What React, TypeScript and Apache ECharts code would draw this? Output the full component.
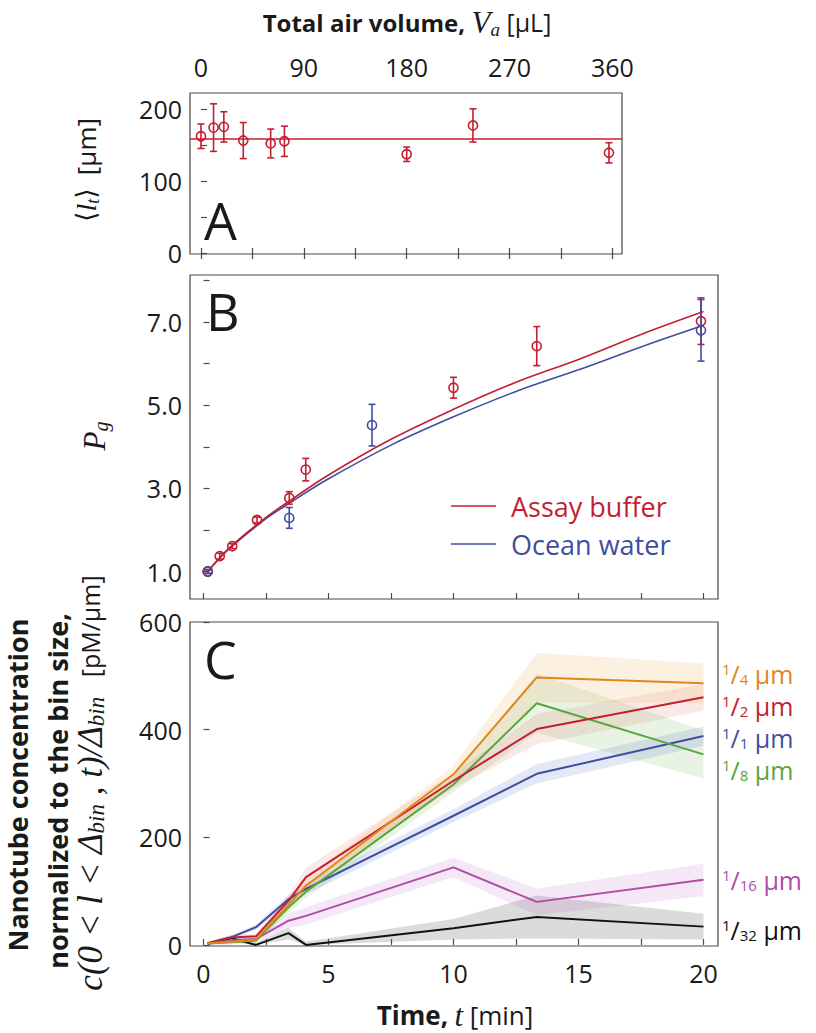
import React, { useEffect, useRef } from "react";
import * as echarts from "echarts";

// ---------- Panel A: mean tube length vs total air volume ----------
const A_VOLUME = [0, 11, 20, 37, 61, 73, 180, 238, 357];
const A_LENGTH = [162, 174, 175, 156, 152, 155, 137, 177, 139];
const A_ERR = [17, 33, 21, 25, 20, 21, 10, 23, 14];
const A_MEAN = 159;
const A_X_TICKS = [0, 45, 90, 135, 180, 225, 270, 315, 360];
const A_X_LABELS = [0, 90, 180, 270, 360];
const A_Y_TICKS = [0, 50, 100, 150, 200];
const A_Y_LABELS = [0, 100, 200];

// ---------- Panel B: P_g vs time ----------
const B_RED_T = [0.17, 0.65, 1.15, 2.14, 3.43, 4.09, 10, 13.33, 19.9];
const B_RED_P = [1.0, 1.37, 1.61, 2.24, 2.77, 3.45, 5.42, 6.42, 7.02];
const B_RED_ERR = [0.04, 0.07, 0.06, 0.07, 0.15, 0.27, 0.25, 0.47, 0.56];
const B_BLUE_T = [0.17, 3.43, 6.74, 19.9];
const B_BLUE_P = [1.0, 2.29, 4.52, 6.8];
const B_BLUE_ERR = [0.05, 0.25, 0.5, 0.74];
const B_FIT_T = [0.17, 1, 2.5, 3.5, 5, 7.5, 10, 12.5, 15, 17.5, 20];
const B_FIT_RED = [1.0, 1.55, 2.3, 2.72, 3.32, 4.18, 4.9, 5.55, 6.1, 6.7, 7.25];
const B_FIT_BLUE = [1.0, 1.53, 2.27, 2.67, 3.23, 4.04, 4.72, 5.33, 5.85, 6.4, 6.92];
const B_Y_TICKS = [1, 2, 3, 4, 5, 6, 7, 8];
const B_Y_LABELS = [1, 3, 5, 7];

// ---------- Panel C: concentration per bin vs time ----------
const T_TICKS = [0, 2.5, 5, 7.5, 10, 12.5, 15, 17.5, 20];
const T_LABELS = [0, 5, 10, 15, 20];
const C_Y_TICKS = [0, 200, 400, 600];
const C_T = [0.17, 1.1, 2.1, 3.4, 4.1, 10, 13.33, 20];
const C_QUARTER = [3, 6, 10, 75, 110, 317, 497, 486];
const C_QUARTER_ERR = [3, 4, 5, 10, 14, 16, 46, 37];
const C_HALF = [3, 14, 16, 82, 126, 305, 401, 460];
const C_HALF_ERR = [3, 4, 5, 10, 18, 14, 28, 25];
const C_ONE = [3, 14, 33, 85, 104, 240, 318, 388];
const C_ONE_ERR = [3, 4, 5, 8, 10, 12, 18, 18];
const C_EIGHTH = [3, 5, 8, 70, 99, 298, 449, 354];
const C_EIGHTH_ERR = [3, 4, 5, 10, 12, 14, 55, 45];
const C_SIXTEENTH = [2, 8, 11, 45, 54, 144, 80, 121];
const C_SIXTEENTH_ERR = [2, 4, 5, 14, 16, 18, 25, 30];
const C_32ND = [2, 13, 0, 22, 0, 31, 52, 34];
const C_32ND_LO = [0, 6, 0, 10, 0, 10, 12, 10];
const C_32ND_HI = [5, 18, 4, 32, 6, 48, 92, 58];

const RED = "#c41e30";
const BLUE = "#3f4e9e";
const ORANGE = "#e0861c";
const GREEN = "#58a63a";
const PURPLE = "#b04ca6";
const BLACK = "#111111";
const INK = "#1a1a1a";
const FRAME = "#4a4a4a";
const SANS = '"Open Sans", "Noto Sans", "DejaVu Sans", sans-serif';
const SERIF = '"Liberation Serif", "DejaVu Serif", serif';

const errorBarRender = (color: string) => (params: any, api: any) => {
  const x = api.value(0);
  const c = api.coord([x, api.value(1)]);
  const lo = api.coord([x, api.value(2)]);
  const hi = api.coord([x, api.value(3)]);
  const cap = 3.5;
  const st = { stroke: color, lineWidth: 1.6, fill: "none" };
  return {
    type: "group",
    children: [
      { type: "line", shape: { x1: c[0], y1: lo[1], x2: c[0], y2: hi[1] }, style: st },
      { type: "line", shape: { x1: c[0] - cap, y1: lo[1], x2: c[0] + cap, y2: lo[1] }, style: st },
      { type: "line", shape: { x1: c[0] - cap, y1: hi[1], x2: c[0] + cap, y2: hi[1] }, style: st },
      { type: "circle", shape: { cx: c[0], cy: c[1], r: 4.6 }, style: st },
    ],
  };
};

const errData = (xs: number[], ys: number[], es: number[]) =>
  xs.map((x, i) => [x, ys[i], ys[i] - es[i], ys[i] + es[i]]);

const bandRender = (t: number[], lo: number[], hi: number[], fill: string) => (params: any, api: any) => {
  const pts: number[][] = [];
  for (let i = 0; i < t.length; i++) pts.push(api.coord([t[i], hi[i]]));
  for (let i = t.length - 1; i >= 0; i--) pts.push(api.coord([t[i], lo[i]]));
  return { type: "polygon", shape: { points: pts }, style: { fill, stroke: "none" } };
};

const pairs = (xs: number[], ys: number[]) => xs.map((x, i) => [x, ys[i]]);

function richText(x: number, y: number, text: string, rich: any, rotation = 0, align = "center") {
  return {
    type: "text",
    x,
    y,
    rotation,
    silent: true,
    style: {
      text,
      rich,
      align,
      textAlign: align,
      verticalAlign: "middle",
      textVerticalAlign: "middle",
      fill: INK,
      font: `25px ${SANS}`,
    },
  };
}

const tok = (o: any) => ({ fill: o.color || INK, color: o.color || INK, ...o });

function fractionLabel(x: number, y: number, num: string, den: string, color: string) {
  return richText(
    x,
    y,
    `{sup|${num}}{sl|/}{sub|${den}}{u| µm}`,
    {
      sup: tok({ fontFamily: SANS, fontSize: 15, lineHeight: 12, verticalAlign: "top", color }),
      sl: tok({ fontFamily: SANS, fontSize: 25, lineHeight: 25, color }),
      sub: tok({ fontFamily: SANS, fontSize: 15, lineHeight: 12, verticalAlign: "bottom", color }),
      u: tok({ fontFamily: SANS, fontSize: 25, lineHeight: 25, color }),
    },
    0,
    "left"
  );
}

function buildOption(): any {
  const axisLabelStyle = { color: INK, fontFamily: SANS, fontSize: 25 };
  const tickStyle = { show: true, inside: true, length: 6, lineStyle: { color: FRAME, width: 1.2 } };
  const gridBase = { show: true, borderColor: FRAME, borderWidth: 1.2, backgroundColor: "transparent" };

  const TXMIN = -0.54;
  const TXMAX = 20.58;

  const cBands = [
    { t: C_T, v: C_EIGHTH, e: C_EIGHTH_ERR, fill: "rgba(120,180,90,0.16)" },
    { t: C_T, v: C_ONE, e: C_ONE_ERR, fill: "rgba(90,110,200,0.16)" },
    { t: C_T, v: C_HALF, e: C_HALF_ERR, fill: "rgba(215,90,70,0.13)" },
    { t: C_T, v: C_QUARTER, e: C_QUARTER_ERR, fill: "rgba(240,170,90,0.18)" },
    { t: C_T, v: C_SIXTEENTH, e: C_SIXTEENTH_ERR, fill: "rgba(185,110,200,0.16)" },
  ];
  const cLines = [
    { v: C_32ND, color: BLACK },
    { v: C_SIXTEENTH, color: PURPLE },
    { v: C_ONE, color: BLUE },
    { v: C_EIGHTH, color: GREEN },
    { v: C_HALF, color: RED },
    { v: C_QUARTER, color: ORANGE },
  ];

  const series: any[] = [];

  // Panel A
  series.push({
    type: "custom",
    xAxisIndex: 0,
    yAxisIndex: 0,
    renderItem: errorBarRender(RED),
    data: errData(A_VOLUME, A_LENGTH, A_ERR),
    clip: false,
    z: 5,
    markLine: {
      silent: true,
      symbol: ["none", "none"],
      label: { show: false },
      lineStyle: { color: RED, width: 1.6, type: "solid" },
      data: [{ yAxis: A_MEAN }],
    },
  });

  // Panel B
  series.push({
    type: "line",
    xAxisIndex: 2,
    yAxisIndex: 1,
    data: pairs(B_FIT_T, B_FIT_BLUE),
    smooth: 0.35,
    showSymbol: false,
    lineStyle: { color: BLUE, width: 1.6 },
    z: 3,
  });
  series.push({
    type: "line",
    xAxisIndex: 2,
    yAxisIndex: 1,
    data: pairs(B_FIT_T, B_FIT_RED),
    smooth: 0.35,
    showSymbol: false,
    lineStyle: { color: RED, width: 1.6 },
    z: 3,
  });
  series.push({
    type: "custom",
    xAxisIndex: 2,
    yAxisIndex: 1,
    renderItem: errorBarRender(RED),
    data: errData(B_RED_T, B_RED_P, B_RED_ERR),
    clip: false,
    z: 5,
  });
  series.push({
    type: "custom",
    xAxisIndex: 2,
    yAxisIndex: 1,
    renderItem: errorBarRender(BLUE),
    data: errData(B_BLUE_T, B_BLUE_P, B_BLUE_ERR),
    clip: false,
    z: 6,
  });

  // Panel C bands
  series.push({
    type: "custom",
    xAxisIndex: 3,
    yAxisIndex: 2,
    renderItem: bandRender(C_T, C_32ND_LO, C_32ND_HI, "rgba(110,110,110,0.25)"),
    data: [[0, 0]],
    clip: true,
    z: 1,
  });
  cBands.forEach((b) => {
    series.push({
      type: "custom",
      xAxisIndex: 3,
      yAxisIndex: 2,
      renderItem: bandRender(
        b.t,
        b.v.map((v, i) => v - b.e[i]),
        b.v.map((v, i) => v + b.e[i]),
        b.fill
      ),
      data: [[0, 0]],
      clip: true,
      z: 1,
    });
  });
  cLines.forEach((l) => {
    series.push({
      type: "line",
      xAxisIndex: 3,
      yAxisIndex: 2,
      data: pairs(C_T, l.v),
      showSymbol: false,
      lineStyle: { color: l.color, width: 2 },
      z: 4,
    });
  });

  const graphic: any[] = [
    // top title
    richText(407, 22, "{b|Total air volume,} {m|V}{s|a} {r|[µL]}", {
      b: tok({ fontFamily: SANS, fontWeight: "bold", fontSize: 24, lineHeight: 34 }),
      m: tok({ fontFamily: SERIF, fontStyle: "italic", fontSize: 31, lineHeight: 34 }),
      s: tok({ fontFamily: SERIF, fontStyle: "italic", fontSize: 19, lineHeight: 19, verticalAlign: "bottom" }),
      r: tok({ fontFamily: SANS, fontSize: 25, lineHeight: 34 }),
    }),
    // panel letters
    richText(204, 219, "{a|A}", { a: tok({ fontFamily: SANS, fontSize: 52, lineHeight: 56 }) }, 0, "left"),
    richText(206, 310, "{a|B}", { a: tok({ fontFamily: SANS, fontSize: 52, lineHeight: 56 }) }, 0, "left"),
    richText(204, 658, "{a|C}", { a: tok({ fontFamily: SANS, fontSize: 52, lineHeight: 56 }) }, 0, "left"),
    // A y label
    richText(
      86,
      170,
      "{m|⟨}{i|l}{s|t}{m|⟩}  {r|[µm]}",
      {
        m: tok({ fontFamily: SERIF, fontSize: 27, lineHeight: 32 }),
        i: tok({ fontFamily: SERIF, fontStyle: "italic", fontSize: 28, lineHeight: 32 }),
        s: tok({ fontFamily: SERIF, fontStyle: "italic", fontSize: 18, lineHeight: 17, verticalAlign: "bottom" }),
        r: tok({ fontFamily: SANS, fontSize: 26, lineHeight: 32 }),
      },
      Math.PI / 2
    ),
    // B y label
    richText(
      94,
      436,
      "{i|P}{s|g}",
      {
        i: tok({ fontFamily: SERIF, fontStyle: "italic", fontSize: 31, lineHeight: 34 }),
        s: tok({ fontFamily: SERIF, fontStyle: "italic", fontSize: 20, lineHeight: 19, verticalAlign: "bottom" }),
      },
      Math.PI / 2
    ),
    // C y label (three lines)
    richText(17, 785, "{b|Nanotube concentration}", { b: tok({ fontFamily: SANS, fontWeight: "bold", fontSize: 27, lineHeight: 32 }) }, Math.PI / 2),
    richText(57, 791, "{b|normalized to the bin size,}", { b: tok({ fontFamily: SANS, fontWeight: "bold", fontSize: 27, lineHeight: 32 }) }, Math.PI / 2),
    richText(
      90,
      783,
      "{m|c(0 < l < Δ}{s|bin}{m| , t)/Δ}{s|bin}{r|   [pM/µm]}",
      {
        m: tok({ fontFamily: SERIF, fontStyle: "italic", fontSize: 35, lineHeight: 36 }),
        s: tok({ fontFamily: SERIF, fontStyle: "italic", fontSize: 23, lineHeight: 20, verticalAlign: "bottom" }),
        r: tok({ fontFamily: SANS, fontSize: 25, lineHeight: 36 }),
      },
      Math.PI / 2
    ),
    // bottom title
    richText(455, 1015, "{b|Time,} {m|t} {r|[min]}", {
      b: tok({ fontFamily: SANS, fontWeight: "bold", fontSize: 26, lineHeight: 34 }),
      m: tok({ fontFamily: SERIF, fontStyle: "italic", fontSize: 31, lineHeight: 34 }),
      r: tok({ fontFamily: SANS, fontSize: 26, lineHeight: 34 }),
    }),
    // legend B
    { type: "line", shape: { x1: 451, y1: 506, x2: 496, y2: 506 }, style: { stroke: RED, lineWidth: 1.6 } },
    { type: "line", shape: { x1: 451, y1: 544, x2: 496, y2: 544 }, style: { stroke: BLUE, lineWidth: 1.6 } },
    richText(511, 506, "{a|Assay buffer}", { a: tok({ fontFamily: SANS, fontSize: 27, lineHeight: 34, color: RED }) }, 0, "left"),
    richText(511, 544, "{a|Ocean water}", { a: tok({ fontFamily: SANS, fontSize: 27, lineHeight: 34, color: BLUE }) }, 0, "left"),
    // C right labels
    fractionLabel(722, 674, "1", "4", ORANGE),
    fractionLabel(722, 706, "1", "2", RED),
    fractionLabel(722, 738, "1", "1", BLUE),
    fractionLabel(722, 770, "1", "8", GREEN),
    fractionLabel(722, 880, "1", "16", PURPLE),
    fractionLabel(722, 930, "1", "32", BLACK),
  ];

  return {
    animation: false,
    backgroundColor: "#ffffff",
    grid: [
      { ...gridBase, left: 190, top: 93, width: 432, height: 161 },
      { ...gridBase, left: 190, top: 275, width: 528, height: 324 },
      { ...gridBase, left: 190, top: 622, width: 528, height: 324 },
    ],
    xAxis: [
      {
        type: "value",
        gridIndex: 0,
        position: "top",
        min: -9.6,
        max: 368.4,
        axisLine: { show: false },
        splitLine: { show: false },
        axisTick: { ...tickStyle, customValues: A_X_TICKS },
        axisLabel: { ...axisLabelStyle, margin: 14, customValues: A_X_LABELS },
      },
      {
        type: "value",
        gridIndex: 0,
        position: "bottom",
        min: -9.6,
        max: 368.4,
        axisLine: { show: false },
        splitLine: { show: false },
        axisTick: { ...tickStyle, customValues: A_X_TICKS },
        axisLabel: { show: false },
      },
      {
        type: "value",
        gridIndex: 1,
        position: "bottom",
        min: TXMIN,
        max: TXMAX,
        axisLine: { show: false },
        splitLine: { show: false },
        axisTick: { ...tickStyle, customValues: T_TICKS },
        axisLabel: { show: false },
      },
      {
        type: "value",
        gridIndex: 2,
        position: "bottom",
        min: TXMIN,
        max: TXMAX,
        axisLine: { show: false },
        splitLine: { show: false },
        axisTick: { ...tickStyle, customValues: T_TICKS },
        axisLabel: { ...axisLabelStyle, margin: 14, customValues: T_LABELS },
      },
    ],
    yAxis: [
      {
        type: "value",
        gridIndex: 0,
        min: -1.4,
        max: 222,
        axisLine: { show: false },
        splitLine: { show: false },
        axisTick: { ...tickStyle, customValues: A_Y_TICKS },
        axisLabel: { ...axisLabelStyle, margin: 8, customValues: A_Y_LABELS },
      },
      {
        type: "value",
        gridIndex: 1,
        min: 0.34,
        max: 8.13,
        axisLine: { show: false },
        splitLine: { show: false },
        axisTick: { ...tickStyle, customValues: B_Y_TICKS },
        axisLabel: {
          ...axisLabelStyle,
          margin: 8,
          customValues: B_Y_LABELS,
          formatter: (v: number) => v.toFixed(1),
        },
      },
      {
        type: "value",
        gridIndex: 2,
        min: -2,
        max: 600,
        axisLine: { show: false },
        splitLine: { show: false },
        axisTick: { ...tickStyle, customValues: C_Y_TICKS },
        axisLabel: { ...axisLabelStyle, margin: 8, customValues: C_Y_TICKS },
      },
    ],
    series,
    graphic,
  };
}

export default function App() {
  const ref = useRef<HTMLDivElement>(null);
  useEffect(() => {
    if (!ref.current) return;
    const chart = echarts.init(ref.current, null, { renderer: "svg" });
    chart.setOption(buildOption());
    return () => chart.dispose();
  }, []);
  return (
    <div
      ref={ref}
      style={{ position: "absolute", left: 0, top: 0, width: 816, height: 1033, background: "#ffffff" }}
    />
  );
}
